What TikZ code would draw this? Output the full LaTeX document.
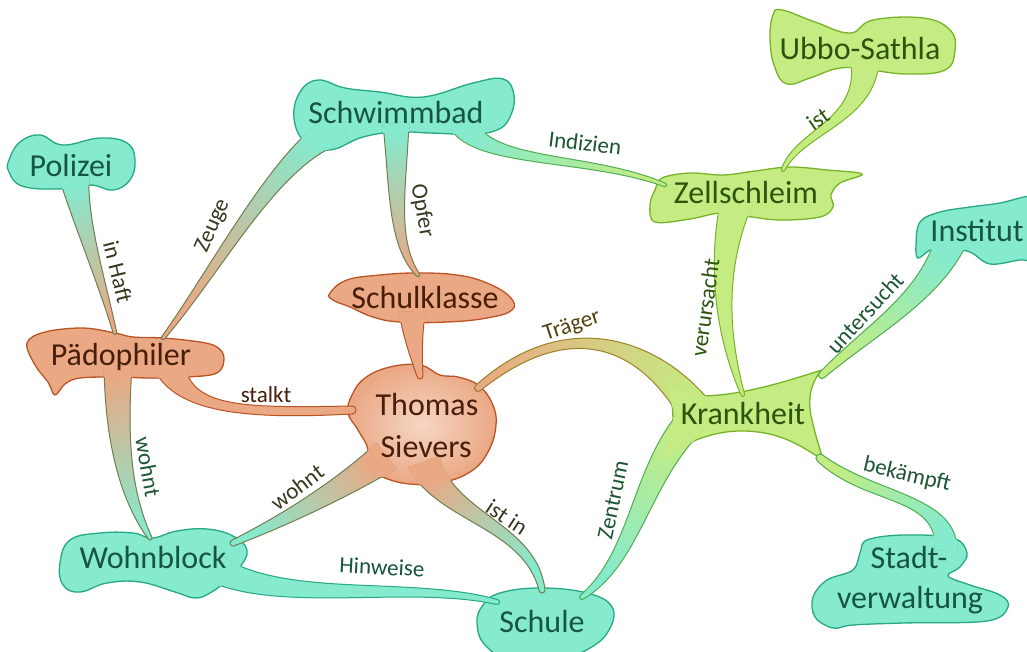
\documentclass[tikz,border=0pt]{standalone}
\usepackage{fontspec}
\setmainfont{Carlito}
\usetikzlibrary{calc}
\definecolor{tealF}{RGB}{133,234,206}
\definecolor{tealB}{RGB}{38,168,128}
\definecolor{tealT}{RGB}{22,86,64}
\definecolor{oraF}{RGB}{234,168,132}
\definecolor{oraB}{RGB}{186,84,36}
\definecolor{oraT}{RGB}{72,30,10}
\definecolor{oraL}{RGB}{246,214,196}
\definecolor{grnF}{RGB}{196,236,130}
\definecolor{grnB}{RGB}{120,178,40}
\definecolor{grnT}{RGB}{44,84,12}
\definecolor{mixT}{RGB}{56,56,32}
\definecolor{olvT}{RGB}{84,66,14}
\definecolor{tgT}{RGB}{30,86,52}

% band geometry: name, P0..P3, widths at P0..P3
\newcommand\mkband[9]{%
 \coordinate (#1P0) at #2;
 \coordinate (#1P1) at #3;
 \coordinate (#1P2) at #4;
 \coordinate (#1P3) at #5;
 \coordinate (#1L0) at ($(#1P0)!#6!90:(#1P1)$);
 \coordinate (#1R0) at ($(#1P0)!#6!-90:(#1P1)$);
 \coordinate (#1L1) at ($(#1P1)!#7!-90:(#1P0)$);
 \coordinate (#1R1) at ($(#1P1)!#7!90:(#1P0)$);
 \coordinate (#1L2) at ($(#1P2)!#8!90:(#1P3)$);
 \coordinate (#1R2) at ($(#1P2)!#8!-90:(#1P3)$);
 \coordinate (#1L3) at ($(#1P3)!#9!-90:(#1P2)$);
 \coordinate (#1R3) at ($(#1P3)!#9!90:(#1P2)$);
 \coordinate (#1E) at ($(#1P3)!#9!180:(#1P2)$);
 \coordinate (#1LE) at ($(#1L3)+1.33*(#1E)-1.33*(#1P3)$);
 \coordinate (#1RE) at ($(#1R3)+1.33*(#1E)-1.33*(#1P3)$);
}
% band drawing: name, start colour, end colour, border colour, source blob path, source fill
\newcommand\drawband[6]{%
 \pgfmathanglebetweenpoints{\pgfpointanchor{#1P3}{center}}{\pgfpointanchor{#1P0}{center}}%
 \pgfmathsetmacro\bandang{\pgfmathresult-90}%
 \shade[top color=#2,bottom color=#3,shading angle=\bandang] (#1L0) .. controls (#1L1) and (#1L2) .. (#1L3) .. controls (#1LE) and (#1RE) .. (#1R3) .. controls (#1R2) and (#1R1) .. (#1R0) -- cycle;
 \draw[#4,line width=1pt] (#1L0) .. controls (#1L1) and (#1L2) .. (#1L3) .. controls (#1LE) and (#1RE) .. (#1R3) .. controls (#1R2) and (#1R1) .. (#1R0) -- cycle;
 \begin{scope}
 \clip #5;
 \filldraw[fill=#6,draw=#6,line width=1.4pt] (#1L0) .. controls (#1L1) and (#1L2) .. (#1L3) .. controls (#1LE) and (#1RE) .. (#1R3) .. controls (#1R2) and (#1R1) .. (#1R0) -- cycle;
 \end{scope}
}

\def\blobPol{plot[smooth cycle,tension=0.7] coordinates {(9,160) (20,142) (40,135) (63,145) (100,138) (127,143) (135,160) (130,180) (113,190) (90,185) (57,189) (22,186) (9,172)}}
\def\blobSch{plot[smooth cycle,tension=0.7] coordinates {(294,118) (300,92) (318,80) (345,88) (380,92) (423,97) (473,83) (503,79) (514,95) (510,117) (497,130) (470,134) (430,133) (397,132) (363,137) (330,150) (305,142)}}
\def\blobUbb{plot[smooth cycle,tension=0.7] coordinates {(770,40) (773,15) (782,10) (815,22) (850,33) (873,20) (923,18) (950,30) (955,50) (945,70) (907,74) (870,70) (840,68) (810,78) (787,84) (775,68)}}
\def\blobZel{plot[smooth cycle,tension=0.6] coordinates {(650,205) (655,190) (662,178) (690,173) (723,175) (755,171) (790,167) (827,170) (862,174) (840,183) (831,195) (833,207) (820,217) (780,220) (745,216) (720,213) (690,219) (655,222)}}
\def\blobIns{plot[smooth cycle,tension=0.6] coordinates {(916,245) (920,222) (940,212) (970,207) (1000,203) (1030,196) (1045,200) (1045,258) (1020,260) (990,264) (970,252) (945,247) (930,250) (918,258)}}
\def\blobPae{plot[smooth cycle,tension=0.6] coordinates {(27,343) (45,332) (83,328) (115,333) (133,337) (163,338) (200,342) (217,347) (224,358) (217,373) (187,377) (150,378) (117,377) (80,378) (65,384) (55,395) (48,382) (35,365)}}
\def\blobKla{plot[smooth cycle,tension=0.7] coordinates {(330,293) (347,280) (380,275) (417,273) (457,275) (487,283) (510,297) (512,310) (487,318) (447,322) (400,322) (373,317) (350,307) (333,300)}}
\def\blobTho{plot[smooth cycle,tension=0.7] coordinates {(348,413) (352,395) (365,378) (390,367) (420,365) (440,375) (458,377) (478,385) (492,403) (496,425) (488,452) (470,472) (440,483) (410,484) (385,478) (362,466) (368,450) (358,430)}}
\def\blobWoh{plot[smooth cycle,tension=0.7] coordinates {(60,563) (70,540) (100,533) (133,533) (152,538) (177,531) (207,529) (233,536) (247,550) (240,567) (225,582) (210,593) (195,598) (175,592) (140,582) (107,583) (80,592) (63,585)}}
\def\blobSle{plot[smooth cycle,tension=0.7] coordinates {(477,623) (483,605) (500,593) (540,588) (587,593) (612,607) (609,630) (590,648) (560,658) (510,658) (485,645)}}
\def\blobSta{plot[smooth cycle,tension=0.6] coordinates {(867,540) (903,535) (953,538) (967,553) (960,567) (948,576) (970,585) (1000,595) (1008,607) (987,621) (903,623) (853,625) (833,628) (815,617) (813,597) (827,580) (853,570) (860,553)}}
\def\blobKra{(663,375) .. controls (672,388) and (682,395) .. (695,396) .. controls (740,397) and (790,380) .. (822,370) .. controls (808,385) and (808,405) .. (812,420) .. controls (815,435) and (820,448) .. (823,460) .. controls (800,445) and (780,432) .. (745,431) .. controls (710,430) and (680,445) .. (652,465) .. controls (668,450) and (673,438) .. (673,420) .. controls (673,400) and (668,388) .. (663,375) -- cycle}

\tikzset{
 ntext/.style={font=\fontsize{32}{36}\selectfont, anchor=base, inner sep=0pt},
 lbl/.style={font=\fontsize{23}{26}\selectfont, inner sep=0pt},
 tblob/.style={fill=tealF, draw=tealB, line width=1.3pt},
 oblob/.style={fill=oraF, draw=oraB, line width=1.3pt},
 gblob/.style={fill=grnF, draw=grnB, line width=1.3pt},
}

\begin{document}
\begin{tikzpicture}[x=1pt,y=-1pt]
\useasboundingbox (0,0) rectangle (1027,651);
\fill[white] (0,0) rectangle (1027,651);

% blobs
\path[tblob] \blobPol;
\path[tblob] \blobSch;
\path[gblob] \blobUbb;
\path[gblob] \blobZel;
\path[tblob] \blobIns;
\path[oblob] \blobPae;
\path[oblob] \blobKla;
\shade[inner color=oraL, outer color=oraF] \blobTho;
\draw[oraB, line width=1.3pt] \blobTho;
\path[gblob] \blobKra;
\path[tblob] \blobWoh;
\path[tblob] \blobSle;
\path[tblob] \blobSta;

% bands
\mkband{haft}{(74,176)}{(80,222)}{(102,282)}{(115,333)}{15pt}{7pt}{4pt}{1.8pt}
\mkband{zeuge}{(342,126)}{(278,152)}{(222,262)}{(163,338)}{16pt}{8pt}{6pt}{1.8pt}
\mkband{opfer}{(396,124)}{(398,190)}{(392,242)}{(418,275)}{13pt}{8pt}{6pt}{1.8pt}
\mkband{indiz}{(463,124)}{(482,165)}{(590,155)}{(665,185)}{13pt}{8pt}{4pt}{1.8pt}
\mkband{ist}{(865,60)}{(868,122)}{(800,130)}{(783,170)}{14pt}{9pt}{5pt}{1.8pt}
\mkband{verur}{(737,200)}{(717,262)}{(720,330)}{(743,395)}{16pt}{10pt}{7pt}{1.8pt}
\mkband{unter}{(952,238)}{(930,298)}{(870,330)}{(822,375)}{16pt}{10pt}{7pt}{3.5pt}
\mkband{bekampf}{(946,550)}{(948,495)}{(870,500)}{(820,458)}{11pt}{10pt}{8pt}{4pt}
\mkband{zentrum}{(692,420)}{(640,475)}{(636,558)}{(582,597)}{15pt}{12pt}{8pt}{2.5pt}
\mkband{trager}{(695,410)}{(650,345)}{(570,310)}{(478,388)}{17pt}{10pt}{7pt}{3.5pt}
\mkband{klasse}{(412,312)}{(413,340)}{(416,355)}{(420,376)}{13pt}{9pt}{6pt}{3pt}
\mkband{stalkt}{(168,362)}{(180,410)}{(240,414)}{(352,410)}{16pt}{8pt}{6pt}{4pt}
\mkband{wohnA}{(118,366)}{(116,440)}{(125,495)}{(150,538)}{14pt}{11pt}{7pt}{2pt}
\mkband{wohnB}{(386,456)}{(340,490)}{(285,520)}{(233,543)}{16pt}{10pt}{6pt}{3pt}
\mkband{istin}{(424,462)}{(445,518)}{(530,525)}{(542,590)}{16pt}{10pt}{7pt}{3pt}
\mkband{hinw}{(212,567)}{(280,607)}{(410,580)}{(497,602)}{14pt}{9pt}{5pt}{2.5pt}

\drawband{haft}{tealF}{oraF}{tealB!50!oraB}{\blobPol}{tealF}
\drawband{zeuge}{tealF}{oraF}{tealB!50!oraB}{\blobSch}{tealF}
\drawband{opfer}{tealF}{oraF}{tealB!50!oraB}{\blobSch}{tealF}
\drawband{indiz}{tealF}{grnF}{tealB!50!grnB}{\blobSch}{tealF}
\drawband{ist}{grnF}{grnF}{grnB}{\blobUbb}{grnF}
\drawband{verur}{grnF}{grnF}{grnB}{\blobZel}{grnF}
\drawband{unter}{tealF}{grnF}{tealB!50!grnB}{\blobIns}{tealF}
\drawband{bekampf}{tealF}{grnF}{tealB!50!grnB}{\blobSta}{tealF}
\drawband{zentrum}{grnF}{tealF}{tealB!50!grnB}{\blobKra}{grnF}
\drawband{trager}{grnF}{oraF}{grnB!50!oraB}{\blobKra}{grnF}
\drawband{klasse}{oraF}{oraF}{oraB}{\blobKla}{oraF}
\drawband{stalkt}{oraF}{oraF}{oraB}{\blobPae}{oraF}
\drawband{wohnA}{oraF}{tealF}{tealB!50!oraB}{\blobPae}{oraF}
\drawband{wohnB}{oraF}{tealF}{tealB!50!oraB}{\blobTho}{oraF}
\drawband{istin}{oraF}{tealF}{tealB!50!oraB}{\blobTho}{oraF}
\drawband{hinw}{tealF}{tealF}{tealB}{\blobWoh}{tealF}

% node texts
\node[ntext, text=tealT] (polizei) at (71,176) {Polizei};
\node[ntext, text=tealT] (schwimmbad) at (396,123) {Schwimmbad};
\node[ntext, text=grnT] (ubbo) at (860,59) {Ubbo-Sathla};
\node[ntext, text=grnT] (zellschleim) at (746,203) {Zellschleim};
\node[ntext, text=tealT] (institut) at (977,241) {Institut};
\node[ntext, text=oraT] (paedophiler) at (121,365) {Pädophiler};
\node[ntext, text=oraT] (schulklasse) at (425,308) {Schulklasse};
\node[ntext, text=oraT] (thomas) at (427,415) {Thomas};
\node[ntext, text=oraT] (sievers) at (426,457) {Sievers};
\node[ntext, text=grnT] (krankheit) at (743,424) {Krankheit};
\node[ntext, text=tealT] (wohnblock) at (153,568) {Wohnblock};
\node[ntext, text=tealT] (schule) at (542,632) {Schule};
\node[ntext, text=tealT] (stadt) at (909,568) {Stadt-};
\node[ntext, text=tealT] (verwaltung) at (910,608) {verwaltung};

% connector labels
\node[lbl, text=mixT, rotate=-76] (lhaft) at (118,272) {in Haft};
\node[lbl, text=mixT, rotate=66] (lzeuge) at (213,226) {Zeuge};
\node[lbl, text=mixT, rotate=-80] (lopfer) at (422,211) {Opfer};
\node[lbl, text=tgT, rotate=-7] (lindiz) at (585,143) {Indizien};
\node[lbl, text=grnT, rotate=35] (list) at (818,119) {ist};
\node[lbl, text=grnT, rotate=82] (lverur) at (705,308) {verursacht};
\node[lbl, text=tgT, rotate=47] (lunter) at (865,313) {untersucht};
\node[lbl, text=tgT, rotate=-13] (lbek) at (907,475) {bekämpft};
\node[lbl, text=tgT, rotate=78] (lzentrum) at (613,500) {Zentrum};
\node[lbl, text=olvT, rotate=18] (ltrager) at (572,326) {Träger};
\node[lbl, text=oraT] (lstalkt) at (266,395) {stalkt};
\node[lbl, text=tgT, rotate=-80] (lwohnA) at (148,467) {wohnt};
\node[lbl, text=mixT, rotate=37] (lwohnB) at (297,487) {wohnt};
\node[lbl, text=mixT, rotate=-33] (listin) at (507,517) {ist in};
\node[lbl, text=tealT, rotate=-3] (lhinw) at (382,567) {Hinweise};
\end{tikzpicture}
\end{document}
